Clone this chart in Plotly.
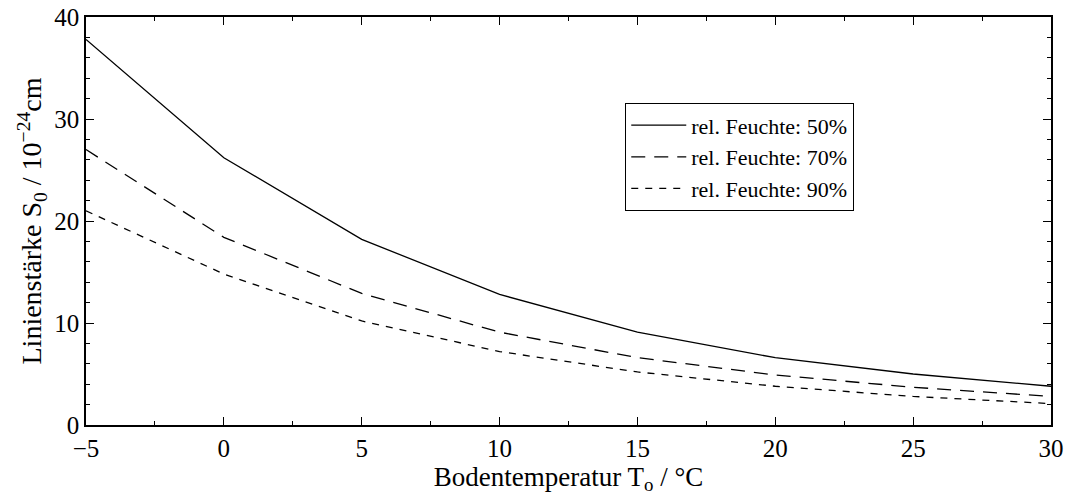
import plotly.graph_objects as go

# Bodentemperatur (°C) und Linienstärke S0 (10^-24 cm) je rel. Feuchte
temperatur = [-5, 0, 5, 10, 15, 20, 25, 30]
s0_50 = [37.8, 26.2, 18.2, 12.8, 9.1, 6.6, 5.0, 3.8]
s0_70 = [27.0, 18.4, 12.9, 9.1, 6.6, 4.9, 3.7, 2.8]
s0_90 = [21.0, 14.8, 10.2, 7.2, 5.2, 3.8, 2.8, 2.1]

namen = ["rel. Feuchte: 50%", "rel. Feuchte: 70%", "rel. Feuchte: 90%"]
reihen = [s0_50, s0_70, s0_90]
striche = ["solid", "14px,9px", "7px,7px"]

FONT = "Liberation Serif, Times New Roman, serif"

fig = go.Figure()
for name, werte, dash in zip(namen, reihen, striche):
    fig.add_trace(go.Scatter(
        x=temperatur, y=werte, mode="lines", name=name,
        line=dict(color="black", width=1.3, dash=dash),
    ))

achse = dict(
    showgrid=False, zeroline=False, showline=True, linecolor="black",
    linewidth=1.5, mirror="allticks", ticks="inside", tickcolor="black",
    tickwidth=1.2, ticklen=8, automargin=False,
    tickfont=dict(family=FONT, size=25, color="black"),
)

fig.update_xaxes(
    **achse, range=[-5, 30], tickmode="linear", tick0=-5, dtick=5,
    minor=dict(ticks="inside", ticklen=4, dtick=2.5, tickcolor="black", tickwidth=1),
    title=dict(text="Bodentemperatur T<sub>o</sub> / °C",
               font=dict(family=FONT, size=27, color="black"), standoff=6),
)
fig.update_yaxes(
    **achse, range=[0, 40], tickmode="linear", tick0=0, dtick=10,
    minor=dict(ticks="inside", ticklen=4, dtick=2, tickcolor="black", tickwidth=1),
    title=dict(text="Linienstärke S<sub>0</sub> / 10<sup>−24</sup>cm",
               font=dict(family=FONT, size=28, color="black"), standoff=4),
)

fig.update_layout(
    width=1066, height=500,
    margin=dict(l=86, r=15, t=17, b=75),
    paper_bgcolor="white", plot_bgcolor="white",
    showlegend=True,
    legend=dict(
        x=0.5585, y=0.789, xanchor="left", yanchor="top",
        bgcolor="white", bordercolor="black", borderwidth=1.3,
        font=dict(family=FONT, size=22, color="black"),
        itemwidth=55, tracegroupgap=0,
    ),
)

fig.write_html("out.html")
